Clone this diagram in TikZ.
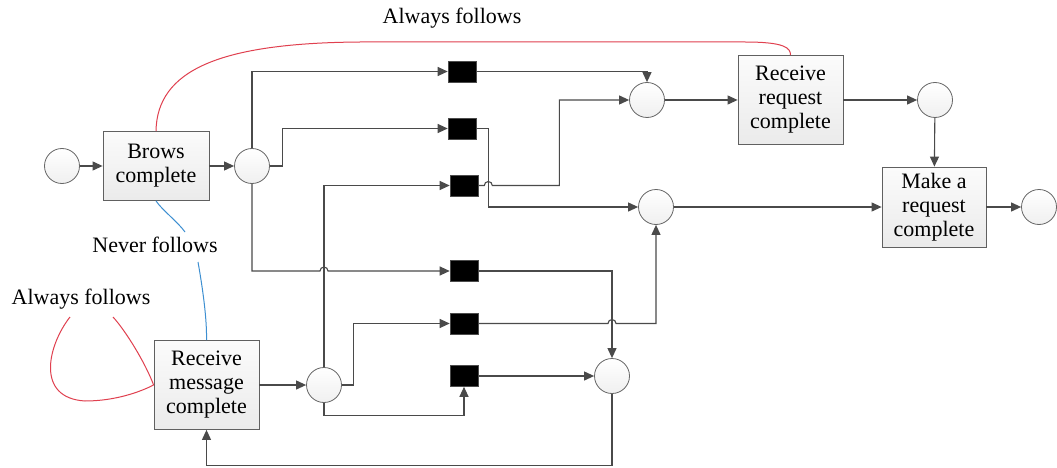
\documentclass[tikz,border=0pt]{standalone}
\usepackage{fontspec}
\setmainfont{Liberation Serif}
\usetikzlibrary{arrows.meta,calc,backgrounds}
\definecolor{linegray}{HTML}{4A4A4A}
\definecolor{shadowgray}{HTML}{D6D6D6}
\definecolor{relred}{HTML}{E0404F}
\definecolor{relblue}{HTML}{3D8FD1}
\begin{document}
\begin{tikzpicture}[x=1pt,y=-1pt,
  font=\rmfamily\fontsize{22}{24}\selectfont,
  place/.style={circle,draw=gray!80!black,line width=0.8pt,top color=white,bottom color=gray!12,minimum size=35pt,inner sep=0pt},
  activity/.style={rectangle,draw=gray!75!black,line width=0.8pt,top color=gray!3,bottom color=gray!16,align=center,inner sep=0pt},
  trans/.style={rectangle,fill=black,draw=gray!60!black,line width=0.6pt,minimum width=28pt,minimum height=21pt,inner sep=0pt},
  flow/.style={draw=linegray,line width=1.1pt,-{Triangle[length=10pt,width=9pt]}},
  always/.style={draw=relred,line width=1pt},
  never/.style={draw=relblue,line width=1pt},
  lbl/.style={inner sep=0pt}
]
% page area
\fill[white] (0,0) rectangle (1057,468);
\useasboundingbox (0,0) rectangle (1057,468);

% places
\node[place] (c0) at (62,166) {};
\node[place] (c1) at (252,166) {};
\node[place] (c2) at (324,385) {};
\node[place] (c3) at (612,376) {};
\node[place] (c4) at (656,207) {};
\node[place] (c5) at (647,100) {};
\node[place] (c6) at (935,100) {};
\node[place] (c7) at (1039,207) {};

% activities
\node[activity,minimum width=106pt,minimum height=69pt] (bc) at (156,166) {Brows\\complete};
\node[activity,minimum width=105pt,minimum height=89pt] (rq) at (790.5,100) {Receive\\request\\complete};
\node[activity,minimum width=104pt,minimum height=80pt] (mr) at (934,207) {Make a\\request\\complete};
\node[activity,minimum width=105pt,minimum height=89pt] (rm) at (206.5,385) {Receive\\message\\complete};

% transitions
\node[trans] (sq1) at (462,71.5) {};
\node[trans] (sq2) at (462,128.5) {};
\node[trans] (sq3) at (464,185.5) {};
\node[trans] (sq4) at (464,271) {};
\node[trans] (sq5) at (464,323.5) {};
\node[trans] (sq6) at (464,376) {};

% shadows behind every shape
\begin{scope}[on background layer]
  \foreach \n in {c0,c1,c2,c3,c4,c5,c6,c7,bc,rq,mr,rm,sq1,sq2,sq3,sq4,sq5,sq6}{
    \fill[shadowgray] (\n.west |- \n.north) rectangle ($(\n.east |- \n.south)+(4pt,-4pt)$);
    \fill[white] (\n.west |- \n.north) rectangle (\n.east |- \n.south);
  }
\end{scope}

% labels
\node[lbl] (aftop) at (452,18) {Always follows};
\node[lbl] (nf) at (155,245) {Never follows};
\node[lbl] (afleft) at (81,299) {Always follows};

% flows
\draw[flow] (c0) -- (bc);
\draw[flow] (bc) -- (c1);
\draw[flow] (c1.north) |- (sq1.west);
\draw[flow] (c1.east) -- ++(12.5,0) |- (sq2.west);
\draw[flow] (c2.north) |- (sq3.west);
\draw[flow] (c1.south) |- ($(c2.north |- sq4.west)+(-4pt,0)$)
  arc[start angle=180,end angle=0,radius=4pt] -- (sq4.west);
\draw[flow] (c2.east) -- ++(12,0) |- (sq5.west);
\draw[flow] (c2.south) -- ++(0,12.5) -| (sq6.south);
\draw[flow] (rm) -- (c2);

\draw[flow] (sq1.east) -| (c5.north);
\draw[flow] (sq2.east) -- ++(12,0) |- (c4.west);
\draw[flow] (sq3.east) -- ($(sq2.east |- sq3.east)+(8pt,0)$)
  arc[start angle=180,end angle=0,radius=4pt] -- ++(67,0) |- (c5.west);
\draw[flow] (sq4.east) -| (c3.north);
\draw[flow] (sq5.east) -- ($(c3.north |- sq5.east)+(-4pt,0)$)
  arc[start angle=180,end angle=0,radius=4pt] -| (c4.south);
\draw[flow] (sq6.east) -- (c3.west);
\draw[flow] (c3.south) -- ++(0,72) -| (rm.south);

\draw[flow] (c5) -- (rq);
\draw[flow] (rq) -- (c6);
\draw[flow] (c6) -- (mr);
\draw[flow] (c4) -- (mr);
\draw[flow] (mr) -- (c7);

% relation links
\coordinate (nf1) at (185,232);
\coordinate (nf2) at (198,262);
\coordinate (al1) at (70,317);
\coordinate (al2) at (113,317);
\draw[always] (bc.north) .. controls (157,70) and (220,43) .. (360,42)
  -- (745,42) .. controls (785,42) and (790.5,48) .. (rq.north);
\draw[never] (bc.south) .. controls (162,210) and (178,222) .. (nf1);
\draw[never] (nf2) .. controls (203,290) and (207,320) .. (rm.north);
\draw[always] (al1) .. controls (48,345) and (35,398) .. (85,401)
  .. controls (115,401) and (140,392) .. (rm.west);
\draw[always] (al2) .. controls (125,330) and (145,362) .. (rm.west);
\end{tikzpicture}
\end{document}
